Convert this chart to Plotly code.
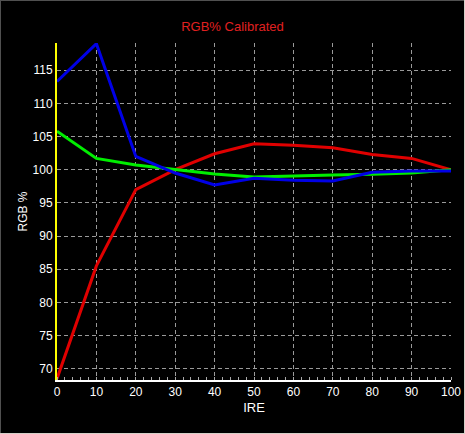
import plotly.graph_objects as go

ire = [0, 10, 20, 30, 40, 50, 60, 70, 80, 90, 100]
red = [68.5, 85.5, 97.0, 100.0, 102.4, 103.9, 103.7, 103.3, 102.3, 101.7, 100.0]
green = [105.8, 101.7, 100.7, 100.0, 99.35, 98.9, 99.1, 99.2, 99.3, 99.5, 100.0]
blue = [113.3, 119.0, 102.0, 99.5, 97.7, 98.7, 98.4, 98.3, 99.6, 99.8, 99.8]

fig = go.Figure()
for name, vals, col in [("Red", red, "#e00000"), ("Green", green, "#00ee00"), ("Blue", blue, "#0000e6")]:
    fig.add_trace(go.Scatter(x=ire, y=vals, mode="lines", name=name,
                             line=dict(color=col, width=3), showlegend=False))

font = "Liberation Sans, Arial, sans-serif"
W, H = 394, 337
fig.update_layout(
    width=465, height=434,
    margin=dict(l=57, r=14, t=43, b=54, autoexpand=False),
    paper_bgcolor="black", plot_bgcolor="black",
    title=dict(text="RGB% Calibrated", x=0.5, xanchor="center", y=0.938, yanchor="middle",
               font=dict(family=font, size=13, color="#e02020")),
    font=dict(family=font, size=12, color="white"),
    xaxis=dict(range=[0, 100], tickvals=list(range(0, 101, 10)), showgrid=True, automargin=False,
               gridcolor="#9a9a9a", griddash="4px,3px", gridwidth=1,
               showline=True, linecolor="white", linewidth=2, zeroline=False,
               ticks="", minor=dict(dtick=2, ticks="inside", ticklen=3, tickcolor="#aaaaaa", showgrid=False),
               title=dict(text="IRE", font=dict(size=13, color="white"), standoff=4),
               tickfont=dict(size=12, color="white")),
    yaxis=dict(range=[68.3, 119.1], tickvals=list(range(70, 116, 5)), showgrid=True, automargin=False,
               gridcolor="#9a9a9a", griddash="4px,3px", gridwidth=1,
               showline=True, linecolor="#ffff00", linewidth=2, zeroline=False,
               ticks="", title=dict(text="RGB %", font=dict(size=12, color="white"), standoff=2),
               tickfont=dict(size=12, color="white")),
    shapes=[
        dict(type="line", xref="paper", yref="paper", x0=-57/W, x1=1+14/W, y0=1+42.5/H, y1=1+42.5/H,
             line=dict(color="#505050", width=1)),
        dict(type="line", xref="paper", yref="paper", x0=-56.5/W, x1=-56.5/W, y0=-54/H, y1=1+43/H,
             line=dict(color="#505050", width=1)),
        dict(type="line", xref="paper", yref="paper", x0=-57/W, x1=1+14/W, y0=-53.5/H, y1=-53.5/H,
             line=dict(color="#d4d0c8", width=1)),
        dict(type="line", xref="paper", yref="paper", x0=1+13.5/W, x1=1+13.5/W, y0=-54/H, y1=1+43/H,
             line=dict(color="#d4d0c8", width=1)),
    ],
)

fig.write_html("out.html")
